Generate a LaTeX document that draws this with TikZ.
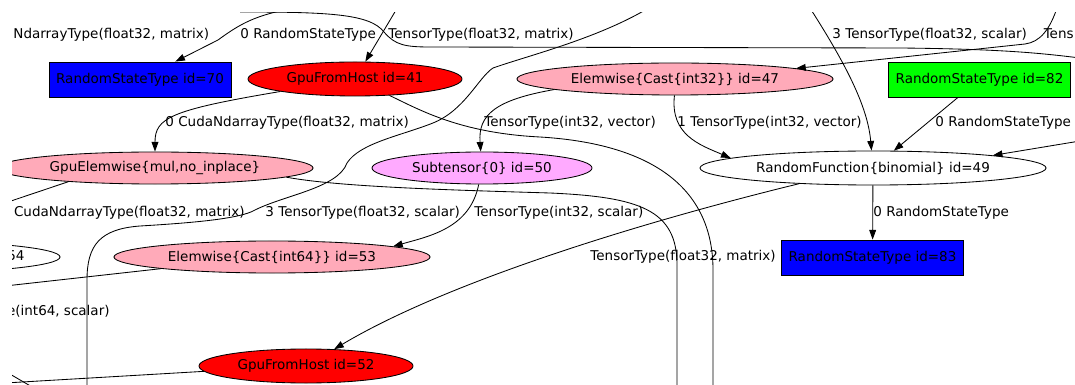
\documentclass[tikz,border=0pt]{standalone}
\usepackage{fontspec}
\setmainfont{DejaVu Sans}
\usetikzlibrary{shapes.geometric,arrows.meta}
\definecolor{rosa}{RGB}{255,170,185}
\definecolor{lila}{RGB}{255,170,255}

\begin{document}
\begin{tikzpicture}[x=0.025cm,y=-0.025cm,line width=0.6pt,black,font=\fontsize{9.6}{11}\selectfont]
	\tikzset{caja/.style={draw=black,rectangle,minimum width=4.55cm,minimum height=0.875cm,inner sep=0pt},
		elipse/.style={draw=black,ellipse,minimum height=0.8cm,inner sep=0pt},
		etiqueta/.style={inner sep=0pt,anchor=base west},
		flecha/.style={-{Triangle[length=2.4mm,width=1.7mm]}}}
	\useasboundingbox (0,0) rectangle (1075,385);
	\clip (12,13) rectangle (1075,385);
	% nodos
	\node[caja,fill=blue] at (140,79.5) (RS70){RandomStateType id=70};
	\node[elipse,fill=red,minimum width=5.35cm,minimum height=0.85cm] at (355,79) (GFH41){GpuFromHost id=41};
	\node[elipse,fill=rosa,minimum width=7.9cm] at (675,79) (EC47){Elemwise\{Cast\{int32\}\} id=47};
	\node[caja,fill=green] at (979.5,79.5) (RS82){RandomStateType id=82};
	\node[elipse,fill=rosa,minimum width=7.9cm] at (155,168) (GE){GpuElemwise\{mul,no\_inplace\}};
	\node[elipse,fill=lila,minimum width=5.5cm] at (482,168) (ST50){Subtensor\{0\} id=50};
	\node[elipse,fill=white,minimum width=8.65cm,minimum height=0.85cm] at (873,168) (RF49){RandomFunction\{binomial\} id=49};
	\node[caja,fill=blue] at (872.5,257.5) (RS83){RandomStateType id=83};
	\node[elipse,minimum width=7.9cm] at (-98,257) (N54){};
	\node[anchor=base east,inner sep=0pt] at (25,261) (T54){54};
	\node[elipse,fill=rosa,minimum width=7.9cm] at (272,257) (EC53){Elemwise\{Cast\{int64\}\} id=53};
	\node[elipse,fill=red,minimum width=5.35cm,minimum height=0.85cm] at (306,366) (GFH52){GpuFromHost id=52};
	% extremos fuera del recorte
	\coordinate (a1) at (295,8);
	\coordinate (a2) at (240,12);
	\coordinate (b2) at (1080,58);
	\coordinate (a3) at (402,0);
	\coordinate (a4) at (652,6);
	\coordinate (b4) at (87,390);
	\coordinate (a5) at (808,5);
	\coordinate (a6) at (1058,5);
	\coordinate (a7) at (1080,141);
	\coordinate (b8) at (713,390);
	\coordinate (b9) at (677,390);
	\coordinate (b10) at (5,203);
	\coordinate (b11) at (5,286);
	\coordinate (b12) at (5,383);
	\coordinate (a13) at (3,370);
	\coordinate (b13) at (39,391);
	% aristas
	\draw[flecha] (a1) .. controls (255,15) and (240,24) .. (218,40) -- (RS70);
	\draw (a2) .. controls (330,12) and (370,14) .. (384,32) .. controls (395,45) and (405,47) .. (430,47) -- (900,48) .. controls (1000,49) and (1040,53) .. (b2);
	\draw[flecha] (a3) -- (GFH41);
	\draw (a4) .. controls (600,38) and (530,55) .. (493,68) .. controls (478,78) and (465,110) .. (433,123) .. controls (400,136) and (360,143) .. (347,163) .. controls (338,188) and (285,195) .. (255,210) .. controls (240,219) and (190,223) .. (140,226) .. controls (100,229) and (87,245) .. (87,280) -- (b4);
	\draw[flecha] (GFH41) .. controls (170,110) and (155,118) .. (GE);
	\draw (GFH41) .. controls (420,110) and (460,133) .. (540,137) .. controls (640,143) and (713,180) .. (713,270) -- (b8);
	\draw (GE.356) .. controls (340,187) and (450,190) .. (550,193) .. controls (640,197) and (677,210) .. (677,265) -- (b9);
	\draw (GE.189) -- (b10);
	\draw (EC53.186) -- (b11);
	\draw (GFH52.183) -- (b12);
	\draw (a13) -- (b13);
	\draw[flecha] (EC47.185) .. controls (495,100) and (478,115) .. (ST50);
	\draw[flecha] (EC47.268) .. controls (670,135) and (700,145) .. (RF49.176);
	\draw[flecha] (a5) .. controls (850,70) and (868,110) .. (RF49);
	\draw[flecha] (RS82) -- (RF49);
	\draw[flecha] (a7) -- (RF49.6);
	\draw[flecha] (RF49) -- (RS83);
	\draw[flecha] (RF49.192) .. controls (650,220) and (450,280) .. (GFH52);
	\draw[flecha] (ST50) .. controls (470,228) and (430,236) .. (EC53.5);
	\draw[flecha] (a6) .. controls (1050,30) and (1040,42) .. (1025,44) -- (EC47.5);
	% etiquetas
	\node[etiqueta] at (13,39) (l1){NdarrayType(float32, matrix)};
	\node[etiqueta] at (240,39) (l2){0 RandomStateType};
	\node[etiqueta] at (388,39) (l3){TensorType(float32, matrix)};
	\node[etiqueta] at (832,39) (l4){3 TensorType(float32, scalar)};
	\node[etiqueta,anchor=base east] at (1074,39) (l5){Tens};
	\node[etiqueta] at (165,127) (l6){0 CudaNdarrayType(float32, matrix)};
	\node[etiqueta] at (484,127) (l7){TensorType(int32, vector)};
	\node[etiqueta] at (677,127) (l8){1 TensorType(int32, vector)};
	\node[etiqueta] at (935,127) (l9){0 RandomStateType};
	\node[etiqueta,anchor=base east] at (245,217) (l10){0 CudaNdarrayType(float32, matrix)};
	\node[etiqueta] at (265,217) (l11){3 TensorType(float32, scalar)};
	\node[etiqueta] at (474,217) (l12){TensorType(int32, scalar)};
	\node[etiqueta] at (873,217) (l13){0 RandomStateType};
	\node[etiqueta] at (590,261) (l14){TensorType(float32, matrix)};
	\node[etiqueta,anchor=base east] at (110,315) (l15){e(int64, scalar)};
\end{tikzpicture}
\end{document}
